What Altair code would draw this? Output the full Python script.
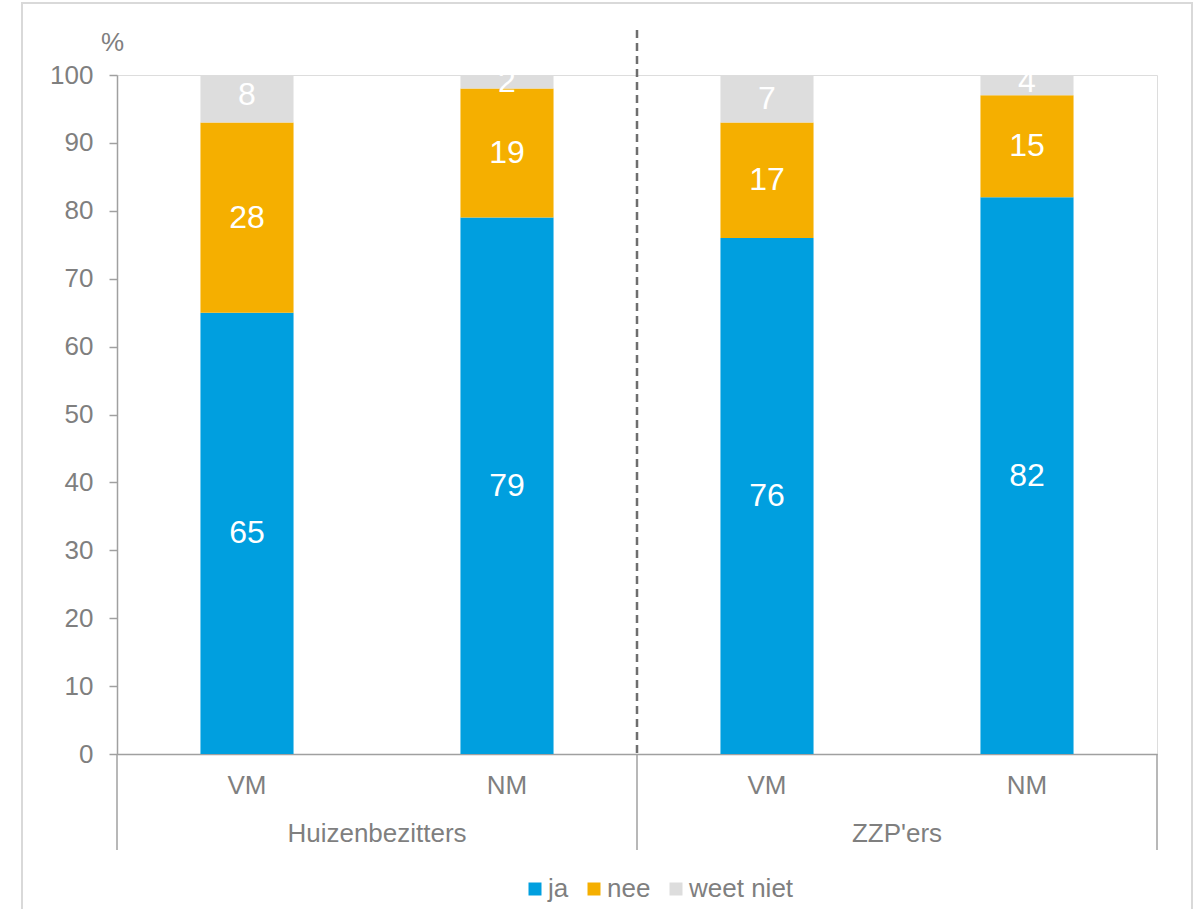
import altair as alt
import pandas as pd

# Survey answers (%), stacked per group and moment
groups = ["Huizenbezitters", "Huizenbezitters", "ZZP'ers", "ZZP'ers"]
moments = ["VM", "NM", "VM", "NM"]
ja = [65, 79, 76, 82]
nee = [28, 19, 17, 15]
weet_niet = [8, 2, 7, 4]

answers = ["ja", "nee", "weet niet"]
colors = ["#009FDF", "#F5AF00", "#DDDDDD"]

rows = []
for g, m, a, b, c in zip(groups, moments, ja, nee, weet_niet):
    key = f"{g}|{m}"
    for rank, (ans, val) in enumerate(zip(answers, [a, b, c])):
        rows.append({"key": key, "groep": g, "moment": m, "antwoord": ans,
                     "waarde": val, "rang": rank})
df = pd.DataFrame(rows)

keys = [f"{g}|{m}" for g, m in zip(groups, moments)]
group_df = pd.DataFrame({"key": [keys[0], keys[2]], "groep": ["Huizenbezitters", "ZZP'ers"]})
start_df = pd.DataFrame({"key": [keys[0], keys[2]]})
end_df = pd.DataFrame({"key": [keys[3]]})
divider_df = pd.DataFrame({"key": [keys[2]]})

W, H = 1040, 679
STEP = W / len(keys)
GRAY = "#7F7F7F"
LINE = "#A0A0A0"
FONT = "Liberation Sans"
FS = 26

xscale = alt.Scale(domain=keys, paddingInner=0.642, paddingOuter=0.321)
yscale = alt.Scale(domain=[0, 100], clamp=True)

base = alt.Chart(df)

bars = base.mark_bar().encode(
    x=alt.X("key:N", scale=xscale, sort=keys,
            axis=alt.Axis(title=None, ticks=False, labelAngle=0,
                          labelExpr="split(datum.label, '|')[1]",
                          labelFontSize=FS, labelColor=GRAY, labelFont=FONT,
                          labelPadding=18, domainColor=LINE, domainWidth=1.5)),
    y=alt.Y("waarde:Q", stack="zero", scale=yscale,
            axis=alt.Axis(title="%", titleAngle=0, titleX=-5, titleY=-20,
                          titleAlign="center", titleFontSize=FS,
                          titleFontWeight="normal", titleColor=GRAY, titleFont=FONT,
                          values=list(range(0, 101, 10)), grid=False,
                          tickSize=8, tickColor=LINE, tickWidth=1.5,
                          domainColor=LINE, domainWidth=1.5,
                          labelFontSize=FS, labelColor=GRAY, labelFont=FONT,
                          labelPadding=16)),
    color=alt.Color("antwoord:N", scale=alt.Scale(domain=answers, range=colors),
                    legend=alt.Legend(title=None, orient="none", legendX=405, legendY=801,
                                      direction="horizontal", symbolType="square",
                                      symbolSize=169, symbolStrokeWidth=0,
                                      labelFontSize=FS, labelColor=GRAY, labelFont=FONT,
                                      labelOffset=0, columnPadding=12)),
    order=alt.Order("rang:Q"),
)

labels = base.mark_text(color="white", fontSize=32, font=FONT, baseline="middle").encode(
    x=alt.X("key:N", scale=xscale, sort=keys),
    y=alt.Y("waarde:Q", stack="zero", scale=yscale, bandPosition=0.5),
    text=alt.Text("waarde:Q"),
    order=alt.Order("rang:Q"),
)

# Group names under the moment labels
group_labels = alt.Chart(group_df).mark_text(
    fontSize=FS, font=FONT, color=GRAY, baseline="middle", dx=STEP / 2
).encode(
    x=alt.X("key:N", scale=xscale, sort=keys),
    y=alt.value(H + 80),
    text="groep:N",
)

# Vertical separators between the groups below the axis
sep_start = alt.Chart(start_df).mark_rule(color=LINE, strokeWidth=1.5, xOffset=-STEP / 2).encode(
    x=alt.X("key:N", scale=xscale, sort=keys),
    y=alt.value(H), y2=alt.value(H + 96),
)
sep_end = alt.Chart(end_df).mark_rule(color=LINE, strokeWidth=1.5, xOffset=STEP / 2).encode(
    x=alt.X("key:N", scale=xscale, sort=keys),
    y=alt.value(H), y2=alt.value(H + 96),
)

# Dashed divider between the two groups
divider = alt.Chart(divider_df).mark_rule(color="#6E6E6E", strokeWidth=2.5,
                                          strokeDash=[8, 5], xOffset=-STEP / 2).encode(
    x=alt.X("key:N", scale=xscale, sort=keys),
    y=alt.value(-45), y2=alt.value(H),
)

# Light frame around the whole figure
frame = alt.Chart(divider_df).mark_rect(fill=None, stroke="#D9D9D9", strokeWidth=2).encode(
    x=alt.value(-95), x2=alt.value(1075), y=alt.value(-72), y2=alt.value(H + 200),
)

chart = alt.layer(frame, bars, labels, group_labels, sep_start, sep_end, divider).properties(
    width=W, height=H,
    padding={"left": 117, "top": 75, "right": 41, "bottom": 155},
    autosize=alt.AutoSizeParams(type="none"),
).configure_view(strokeWidth=0).configure(background="white")

chart.save("out.html", embed_options={"renderer": "svg", "actions": False})
